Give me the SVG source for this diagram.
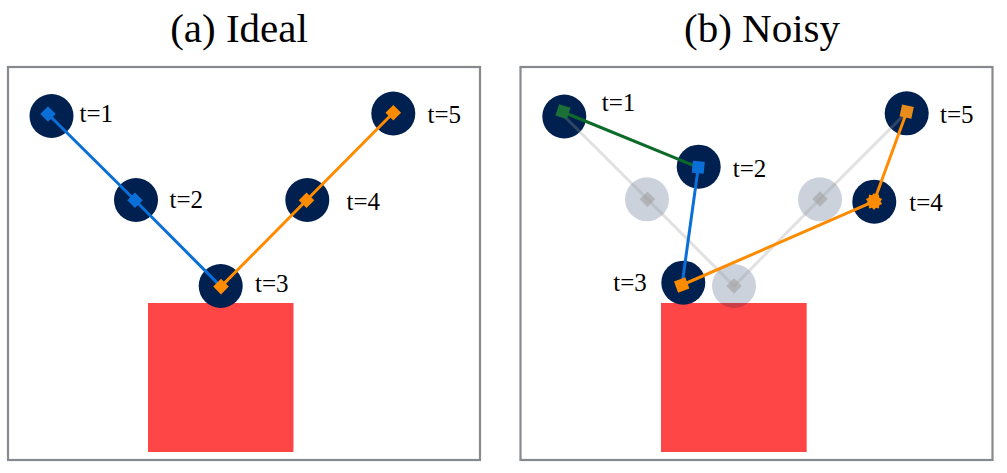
<svg xmlns="http://www.w3.org/2000/svg" width="1007" height="473" viewBox="0 0 1007 473">
<style>
.title{font-family:'Liberation Serif','Times New Roman',Times,'Nimbus Roman','Nimbus Roman No9 L','Noto Serif','FreeSerif','DejaVu Serif',serif;font-size:41px;fill:#000;text-anchor:middle}
.lbl{font-family:'Liberation Serif','Times New Roman',Times,'Nimbus Roman','Nimbus Roman No9 L','Noto Serif','FreeSerif','DejaVu Serif',serif;font-size:25px;fill:#000}
.frame{fill:#fff;stroke:#86898e;stroke-width:2.2}
.obst{fill:#ff4646}
.node{fill:#002050}
.ghost{fill:#002050;fill-opacity:0.2}
.gline{stroke:#9a9a9a;stroke-opacity:0.3;stroke-width:3;fill:none}
.gmark{fill:#a0a0a0;fill-opacity:0.6}
.blue{stroke:#0a6fd6;stroke-width:3;fill:none}
.orange{stroke:#ff8c00;stroke-width:3;fill:none}
.green{stroke:#0d6b2a;stroke-width:3;fill:none}
.fb{fill:#0a6fd6}.fo{fill:#ff8c00}.fg{fill:#1b7038}.fo2{fill:#ea8c1c}
</style>
<text class="title" x="239" y="42">(a) Ideal</text>
<text class="title" x="762" y="42">(b) Noisy</text>

<g id="panel-a">
<rect class="frame" x="8" y="67" width="472" height="393"/>
<rect id="obstacle-a" class="obst" x="148" y="303" width="145.5" height="149"/>
<g id="a-t1"><circle class="node" cx="51.5" cy="116" r="22"/><text class="lbl" x="79.5" y="122">t=1</text></g>
<g id="a-t2"><circle class="node" cx="136" cy="200" r="22"/><text class="lbl" x="169.5" y="208">t=2</text></g>
<g id="a-t3"><circle class="node" cx="220.7" cy="286" r="22"/><text class="lbl" x="255" y="292">t=3</text></g>
<g id="a-t4"><circle class="node" cx="307.3" cy="200" r="22"/><text class="lbl" x="346.5" y="210">t=4</text></g>
<g id="a-t5"><circle class="node" cx="393.3" cy="113.5" r="22"/><text class="lbl" x="427.5" y="122.5">t=5</text></g>
<g id="a-connectors">
<polyline class="blue" points="48,114 135,200.3 221,286.6"/>
<polyline class="orange" points="221,286.6 306.5,200.3 393.3,112.8"/>
</g>
<g id="a-markers">
<rect class="fb" x="-5.5" y="-5.5" width="11" height="11" transform="translate(48 114) rotate(45)"/>
<rect class="fb" x="-5.5" y="-5.5" width="11" height="11" transform="translate(135 200.3) rotate(45)"/>
<rect class="fo" x="-5.5" y="-5.5" width="11" height="11" transform="translate(221 286.6) rotate(45)"/>
<rect class="fo" x="-5.5" y="-5.5" width="11" height="11" transform="translate(306.5 200.3) rotate(45)"/>
<rect class="fo" x="-5.5" y="-5.5" width="11" height="11" transform="translate(393.3 112.8) rotate(45)"/>
</g>
</g>

<g id="panel-b">
<rect class="frame" x="520.5" y="67" width="472" height="393"/>
<rect id="obstacle-b" class="obst" x="661" y="303" width="145.7" height="149"/>
<g id="b-t1"><circle class="node" cx="564.3" cy="116.5" r="22"/><text class="lbl" x="601.7" y="111">t=1</text></g>
<g id="b-t2"><circle class="node" cx="698.7" cy="166.7" r="22"/><text class="lbl" x="732.7" y="177">t=2</text></g>
<g id="b-t3"><circle class="node" cx="683.3" cy="282.7" r="22"/><text class="lbl" x="613.3" y="291">t=3</text></g>
<g id="b-t4"><circle class="node" cx="874.3" cy="201.7" r="22"/><text class="lbl" x="909.3" y="211">t=4</text></g>
<g id="b-t5"><circle class="node" cx="906.7" cy="113.3" r="22"/><text class="lbl" x="940" y="122.7">t=5</text></g>
<g id="b-ghosts">
<circle class="ghost" cx="647" cy="199.3" r="22"/>
<circle class="ghost" cx="734" cy="286" r="22"/>
<circle class="ghost" cx="820" cy="199.3" r="22"/>
</g>
<g id="b-connectors">
<polyline class="gline" points="561,113 647.5,199.3 734,286 820,199 906.5,112.5"/>
<rect class="gmark" x="-5.5" y="-5.5" width="11" height="11" transform="translate(647.5 199.3) rotate(45)"/>
<rect class="gmark" x="-5.5" y="-5.5" width="11" height="11" transform="translate(734 286) rotate(45)"/>
<rect class="gmark" x="-5.5" y="-5.5" width="11" height="11" transform="translate(820 199) rotate(45)"/>
<line class="green" x1="563" y1="112" x2="698.3" y2="167.3"/>
<line class="blue" x1="698.3" y1="167.3" x2="682" y2="285"/>
<polyline class="orange" points="682,285 874,201.5 906.7,112"/>
</g>
<g id="b-markers">
<rect class="fg" x="-6" y="-6" width="12" height="12" transform="translate(563 111.7) rotate(18)"/>
<rect class="fb" x="-6" y="-6" width="12" height="12" transform="translate(698.3 167.3) rotate(5)"/>
<rect class="fo" x="-6" y="-6" width="12" height="12" transform="translate(681.7 285) rotate(-20)"/>
<polygon class="fo" points="874,193 876,195.3 879,194.6 879.3,197.7 882.1,198.9 880.5,201.5 882.1,204.1 879.3,205.3 879,208.4 876,207.7 874,210 872,207.7 869,208.4 868.7,205.3 865.9,204.1 867.5,201.5 865.9,198.9 868.7,197.7 869,194.6 872,195.3"/>
<rect class="fo2" x="-6" y="-6" width="12" height="12" transform="translate(906.7 111.7) rotate(12)"/>
</g>
</g>
</svg>
